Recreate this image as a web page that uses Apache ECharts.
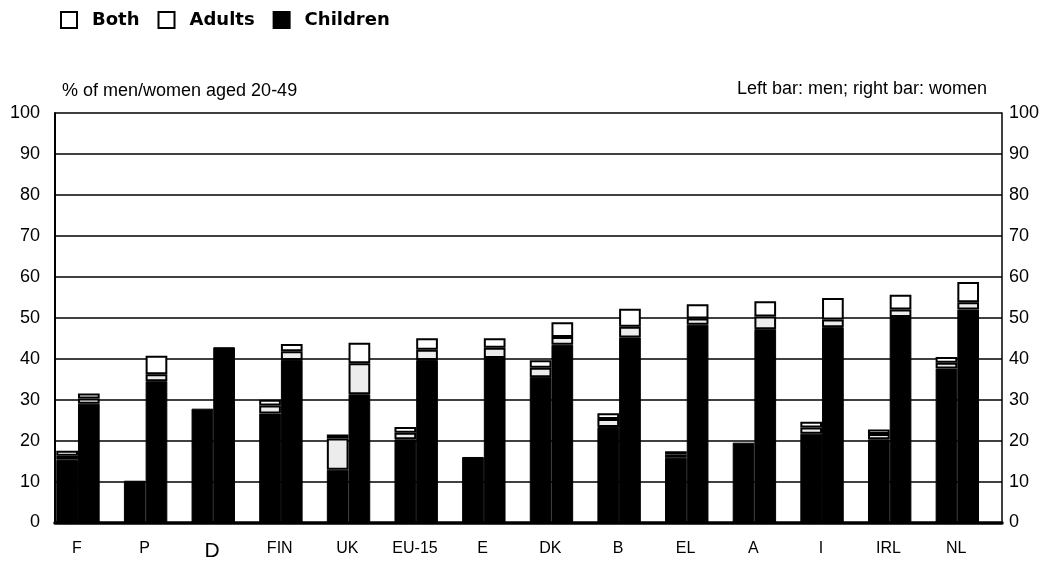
<!DOCTYPE html>
<html>
<head>
<meta charset="utf-8">
<script src="https://cdn.jsdelivr.net/npm/echarts@6/dist/echarts.min.js"></script>
<style>
  html, body { margin: 0; padding: 0; background: #fff; }
  #chart { width: 1051px; height: 568px; }
</style>
</head>
<body>
<div id="chart"></div>
<script>
// Countries, ordered by the share of women living with others
const categories = ['F', 'P', 'D', 'FIN', 'UK', 'EU-15', 'E', 'DK', 'B', 'EL', 'A', 'I', 'IRL', 'NL'];

// Men (left bar of each pair), % aged 20-49
const menChildren = [15.3, 10.2, 27.8, 26.6, 12.9, 20.3, 16.0, 35.5, 23.3, 15.8, 19.5, 21.7, 20.3, 37.6];
const menAdults   = [1.0, 0, 0, 2.0, 7.6, 1.6, 0, 2.3, 2.0, 0.8, 0, 1.5, 1.3, 1.4];
const menBoth     = [1.2, 0, 0, 1.4, 1.0, 1.4, 0, 1.8, 1.4, 0.8, 0, 1.4, 1.1, 1.4];

// Women (right bar of each pair), % aged 20-49
const womenChildren = [29.0, 34.5, 42.8, 39.7, 31.3, 39.7, 40.2, 43.4, 45.2, 48.3, 47.2, 47.7, 50.2, 52.0];
const womenAdults   = [1.3, 1.7, 0, 2.1, 7.6, 2.5, 2.5, 1.9, 2.6, 1.5, 3.1, 1.9, 1.8, 1.8];
const womenBoth     = [1.2, 4.5, 0, 1.8, 5.0, 2.8, 2.3, 3.6, 4.4, 3.5, 3.7, 5.2, 3.6, 4.9];

const yTicks = { min: 0, max: 100, step: 10 };

const FONT = '"Liberation Sans", Arial, sans-serif';
const BAR_W = 21.7;

// empty segments are skipped so they leave no outline
const seg = arr => arr.map(v => (v > 0 ? v : '-'));

const styles = {
  Children: { color: '#000', borderColor: '#000', borderWidth: 1 },
  Adults:   { color: '#ececec', borderColor: '#000', borderWidth: 2 },
  Both:     { color: '#fff', borderColor: '#000', borderWidth: 2 }
};

function barSeries(name, stack, values) {
  return {
    name, type: 'bar', stack, barWidth: BAR_W, barGap: 0,
    data: seg(values), itemStyle: styles[name], silent: true
  };
}

const chart = echarts.init(document.getElementById('chart'));
chart.setOption({
  animation: false,
  backgroundColor: '#fff',
  title: [
    { text: '% of men/women aged 20-49', left: 62, top: 82, padding: 0,
      textStyle: { fontFamily: FONT, fontSize: 18, fontWeight: 'normal', color: '#000' } },
    { text: 'Left bar: men; right bar: women', right: 64, top: 80, padding: 0,
      textStyle: { fontFamily: FONT, fontSize: 18, fontWeight: 'normal', color: '#000' } }
  ],
  legend: {
    left: 60, top: 11, padding: 0, itemWidth: 16, itemHeight: 16, itemGap: 18,
    selectedMode: false,
    textStyle: { fontFamily: '"DejaVu Sans", sans-serif', fontWeight: 'bold', fontSize: 18, color: '#000', padding: [0, 0, 0, 10] },
    data: [
      { name: 'Both', icon: 'rect', itemStyle: { color: '#fff', borderColor: '#000', borderWidth: 2 } },
      { name: 'Adults', icon: 'rect', itemStyle: { color: '#fff', borderColor: '#000', borderWidth: 2 } },
      { name: 'Children', icon: 'rect', itemStyle: { color: '#000', borderColor: '#000', borderWidth: 2 } }
    ]
  },
  grid: { left: 55, right: 49, top: 113, bottom: 45.5, containLabel: false },
  xAxis: {
    type: 'category', data: categories,
    axisLine: { show: true, lineStyle: { color: '#000', width: 3.5 } },
    axisTick: { show: false },
    axisLabel: {
      fontFamily: FONT, fontSize: 16, color: '#000', margin: 18,
      // labels sit under the pair of bars, left of the band centre
      padding: [0, 24, 0, 0],
      formatter: v => (v === 'D' ? '{big|D}' : v),
      rich: { big: { fontFamily: FONT, fontSize: 21, color: '#000' } }
    }
  },
  yAxis: [
    {
      type: 'value', min: yTicks.min, max: yTicks.max, interval: yTicks.step, position: 'left',
      axisLine: { show: true, lineStyle: { color: '#000', width: 2 } },
      axisTick: { show: false },
      axisLabel: { fontFamily: FONT, fontSize: 18, color: '#000', margin: 15 },
      splitLine: { show: true, lineStyle: { color: '#000', width: 1.5 } }
    },
    {
      type: 'value', min: yTicks.min, max: yTicks.max, interval: yTicks.step, position: 'right',
      axisLine: { show: true, lineStyle: { color: '#000', width: 1.5 } },
      axisTick: { show: false },
      axisLabel: { fontFamily: FONT, fontSize: 18, color: '#000', margin: 7 },
      splitLine: { show: false }
    }
  ],
  series: [
    barSeries('Children', 'men', menChildren),
    barSeries('Adults', 'men', menAdults),
    barSeries('Both', 'men', menBoth),
    barSeries('Children', 'women', womenChildren),
    barSeries('Adults', 'women', womenAdults),
    barSeries('Both', 'women', womenBoth),
    // empty third slot keeps each pair to the left of its band
    { name: 'spacer', type: 'bar', stack: 'spacer', barWidth: BAR_W, barGap: 0, data: categories.map(() => '-'), silent: true }
  ]
});
</script>
</body>
</html>
